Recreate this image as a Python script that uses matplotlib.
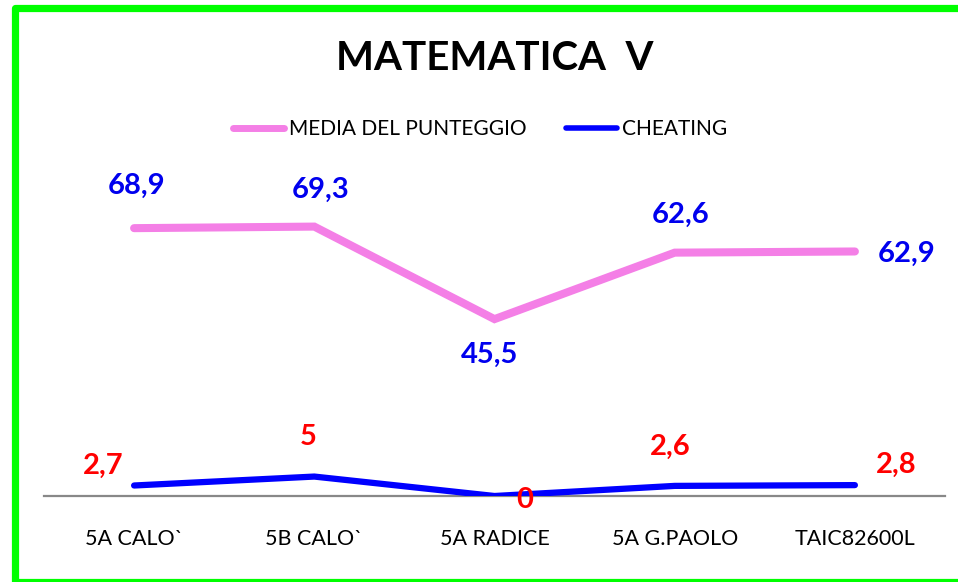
import matplotlib
matplotlib.use("Agg")
import matplotlib.pyplot as plt
from matplotlib.patches import Rectangle
from matplotlib.lines import Line2D

plt.rcParams["font.family"] = ["Lato", "DejaVu Sans"]

# ── data ──────────────────────────────────────────────────────────────
classi = ["5A CALO`", "5B CALO`", "5A RADICE", "5A G.PAOLO", "TAIC82600L"]
media = [68.9, 69.3, 45.5, 62.6, 62.9]
cheating = [2.7, 5, 0, 2.6, 2.8]

PINK = "#F47FE6"
BLUE = "#0000FF"
LBL_BLUE = "#0000EE"
RED = "#FF0000"

W, H = 958, 582
fig = plt.figure(figsize=(W / 100, H / 100), dpi=100)

# axes placed in pixel terms: x 44..945, baseline at y=496, top at ~185
ax = fig.add_axes([44 / W, (H - 496) / H, (945 - 44) / W, (496 - 185) / H])
x = list(range(len(classi)))

ax.plot(x, media, color=PINK, lw=5.8, solid_capstyle="round",
        solid_joinstyle="miter", label="MEDIA DEL PUNTEGGIO", zorder=3)
ax.plot(x, cheating, color=BLUE, lw=4.5, solid_capstyle="round",
        solid_joinstyle="miter", label="CHEATING", zorder=4)

ax.set_xlim(-0.5, len(classi) - 0.5)
ax.set_ylim(0, 80)
ax.set_yticks([])
ax.set_xticks(x)
ax.set_xticklabels(classi, fontsize=15.5)
ax.tick_params(axis="x", length=0, pad=24)
for s in ["top", "right", "left"]:
    ax.spines[s].set_visible(False)
ax.spines["bottom"].set_color("#888888")
ax.spines["bottom"].set_linewidth(1.6)
ax.spines["bottom"].set_zorder(2)


def fmt(v):
    return f"{v:g}".replace(".", ",")


# label offsets in pixels (dx, dy up) and horizontal alignment
media_pos = [(2, 42, "center"), (6, 37, "center"), (-5, -36, "center"),
             (6, 38, "center"), (23, -2, "left")]
cheat_pos = [(-11, 20, "right"), (-6, 40, "center"), (22, -4, "left"),
             (-4, 39, "center"), (21, 20, "left")]

for xi, v, (dx, dy, ha) in zip(x, media, media_pos):
    ax.annotate(fmt(v), (xi, v), xytext=(dx * 0.72, dy * 0.72),
                textcoords="offset points", ha=ha, va="center",
                fontsize=21, fontweight="bold", color=LBL_BLUE)
for xi, v, (dx, dy, ha) in zip(x, cheating, cheat_pos):
    ax.annotate(fmt(v), (xi, v), xytext=(dx * 0.72, dy * 0.72),
                textcoords="offset points", ha=ha, va="center",
                fontsize=21, fontweight="bold", color=RED, zorder=5,
                annotation_clip=False)

fig.text(495 / W, 1 - 58 / H, "MATEMATICA  V", ha="center", va="center",
         fontsize=29, fontweight="bold")

handles = [Line2D([], [], color=PINK, lw=5, solid_capstyle="round"),
           Line2D([], [], color=BLUE, lw=4, solid_capstyle="round")]
fig.legend(handles, ["MEDIA DEL PUNTEGGIO", "CHEATING"], loc="center",
           bbox_to_anchor=(480 / W, 1 - 129 / H), ncol=2, frameon=False,
           fontsize=15, handlelength=2.45, handletextpad=0.25,
           columnspacing=1.9)

# green frame round the whole chart
fig.patches.append(Rectangle((15.5 / W, 1 - 582 / H), (962 - 15.5) / W,
                             (582 - 7.5) / H, transform=fig.transFigure,
                             fill=False, edgecolor="#00FF00", lw=5.2,
                             joinstyle="round", clip_on=False))

fig.savefig("out.png", dpi=100)
